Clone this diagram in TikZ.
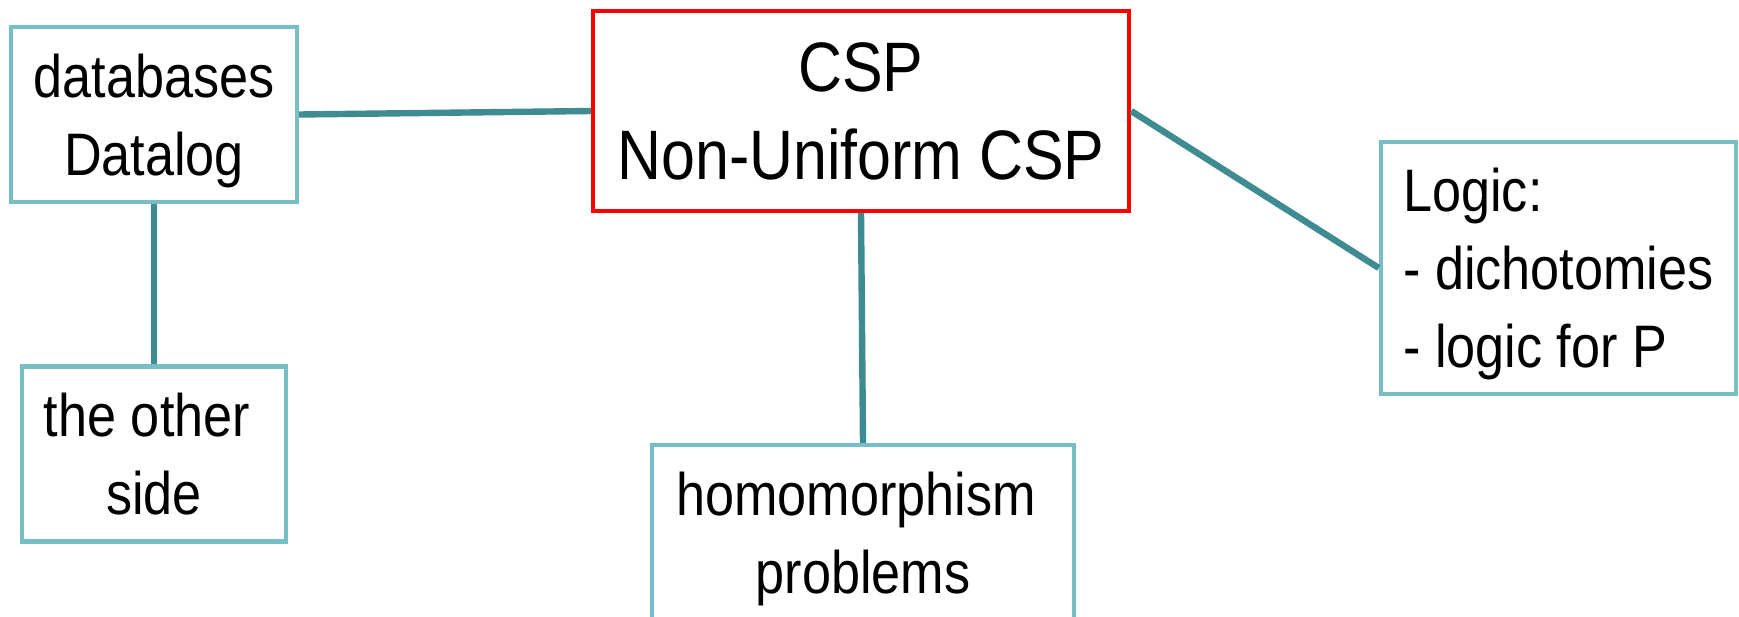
\documentclass[tikz,border=0pt]{standalone}
\usepackage{fontspec}
\setmainfont{Liberation Sans}
\newfontfamily\mapfont[FakeStretch=0.87]{Liberation Sans}
\usepackage{tikz}
\definecolor{boxteal}{HTML}{76BFC5}
\definecolor{linkteal}{HTML}{3E8C91}
\definecolor{cspred}{HTML}{FF0000}
\tikzset{
  topic/.style = {draw=boxteal,line width=2.2pt,fill=white,align=center,inner sep=0pt,
                  font=\mapfont\fontsize{30}{39}\selectfont},
  hub/.style   = {topic,draw=cspred,font=\mapfont\fontsize{35}{44}\selectfont},
  nodesc/.style = {text depth=0pt},
  link/.style  = {draw=linkteal,line width=3.2pt}
}

\begin{document}
\begin{tikzpicture}[x=0.5pt,y=-0.5pt]
  \useasboundingbox (0,0) rectangle (1739,616);
  \clip (0,0) rectangle (1739,616);
  \node[hub,minimum width=268pt,minimum height=100pt] (csp) at (861,111) {CSP\\Non-Uniform CSP};
  \node[topic,nodesc,minimum width=143pt,minimum height=87.5pt] (db) at (154,114.5) {databases\\Datalog};
  \node[topic,minimum width=132pt,minimum height=87.5pt] (side) at (154,454) {the other\kern7pt\\side};
  \node[topic,minimum width=211pt,minimum height=94pt] (hom) at (863,539) {homomorphism\kern7pt\\problems};
  \node[topic,nodesc,align=left,minimum width=177.5pt,minimum height=126pt] (logic) at (1558.5,268)
    {Logic:\\- dichotomies\\- logic for P};
  \draw[link] (db.east) -- (csp.west);
  \draw[link] (db.south) -- (side.north);
  \draw[link] (csp.south) -- (hom.north);
  \draw[link] (csp.east) -- (logic.west);
\end{tikzpicture}
\end{document}
